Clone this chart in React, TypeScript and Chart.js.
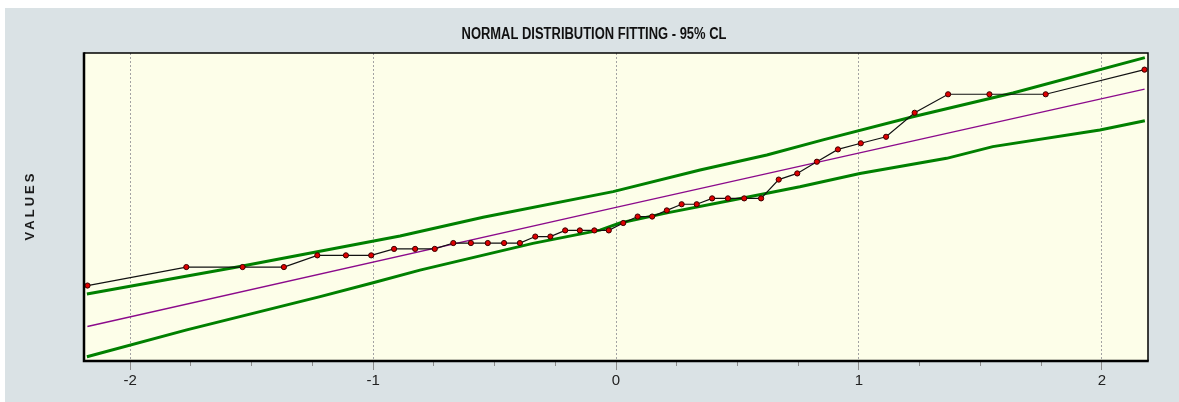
import React, { useEffect, useRef } from "react";
import { Chart, registerables } from "chart.js";

Chart.register(...registerables);

const chartTitle = "NORMAL DISTRIBUTION FITTING - 95% CL";
const yAxisLabel = "VALUES";

// normal scores (x) of the 42 ordered observations
const normalScores = [
  -2.1756, -1.7688, -1.5372, -1.3671, -1.2294, -1.1117, -1.0077, -0.9136, -0.8269, -0.7461,
  -0.6698, -0.5973, -0.5278, -0.4608, -0.3957, -0.3323, -0.2702, -0.2092, -0.1489, -0.0891,
  -0.0297, 0.0297, 0.0891, 0.1489, 0.2092, 0.2702, 0.3323, 0.3957, 0.4608, 0.5278,
  0.5973, 0.6698, 0.7461, 0.8269, 0.9136, 1.0077, 1.1117, 1.2294, 1.3671, 1.5372,
  1.7688, 2.1756,
];

// ordered observed values
const observedValues = [
  2.45, 3.05, 3.05, 3.05, 3.43, 3.43, 3.43, 3.64, 3.64, 3.64,
  3.83, 3.83, 3.83, 3.83, 3.83, 4.04, 4.04, 4.24, 4.24, 4.24,
  4.24, 4.48, 4.69, 4.69, 4.89, 5.09, 5.09, 5.28, 5.28, 5.28,
  5.28, 5.89, 6.09, 6.47, 6.87, 7.07, 7.28, 8.06, 8.66, 8.66,
  8.66, 9.46,
];

// fitted normal line
const fitX = [-2.176, 0, 2.176];
const fitY = [1.12, 4.99, 8.83];

// upper 95% confidence limit
const upperX = [-2.178, -1.576, -0.889, -0.547, -0.012, 0.346, 0.621, 0.852, 1.222, 1.634, 2.177];
const upperY = [2.175, 3.03, 4.06, 4.67, 5.5, 6.2, 6.69, 7.18, 7.93, 8.7, 9.85];

// lower 95% confidence limit
const lowerX = [-2.178, -1.767, -1.218, -1.0, -0.807, -0.342, -0.066, 0.016, 0.21, 0.481, 0.757, 1.004, 1.361, 1.551, 1.992, 2.177];
const lowerY = [0.14, 1.01, 2.09, 2.54, 2.95, 3.82, 4.25, 4.48, 4.81, 5.23, 5.66, 6.09, 6.58, 6.96, 7.5, 7.8];

const xMin = -2.19;
const xMax = 2.19;
const yMin = 0;
const yMax = 10;

const toPoints = (xs: number[], ys: number[]) => xs.map((x, i) => ({ x, y: ys[i] }));
const isMajor = (v: number) => Math.abs(v - Math.round(v)) < 1e-6;

const framePlugin = {
  id: "frame",
  beforeDraw(chart: any) {
    const { ctx, chartArea: a } = chart;
    ctx.save();
    ctx.fillStyle = "#fdfee9";
    ctx.fillRect(a.left, a.top, a.right - a.left, a.bottom - a.top);
    ctx.restore();
  },
  afterDraw(chart: any) {
    const { ctx, chartArea: a } = chart;
    ctx.save();
    ctx.strokeStyle = "#000";
    ctx.lineWidth = 1.5;
    ctx.beginPath();
    ctx.moveTo(a.left, a.top);
    ctx.lineTo(a.right, a.top);
    ctx.lineTo(a.right, a.bottom);
    ctx.stroke();
    ctx.lineWidth = 2.5;
    ctx.beginPath();
    ctx.moveTo(a.left, a.top - 0.75);
    ctx.lineTo(a.left, a.bottom);
    ctx.lineTo(a.right + 0.75, a.bottom);
    ctx.stroke();
    ctx.restore();

    // condensed bold title
    ctx.save();
    ctx.translate(589, 26.5);
    ctx.scale(0.81, 1);
    ctx.font = 'bold 16px "Liberation Sans", Arial, sans-serif';
    ctx.textAlign = "center";
    ctx.textBaseline = "middle";
    ctx.fillStyle = "#111";
    ctx.fillText(chartTitle, 0, 0);
    ctx.restore();

    // letter-spaced vertical axis label
    ctx.save();
    ctx.translate(25, (a.top + a.bottom) / 2);
    ctx.rotate(-Math.PI / 2);
    ctx.font = 'bold 13px "Liberation Sans", Arial, sans-serif';
    (ctx as any).letterSpacing = "3px";
    ctx.textAlign = "center";
    ctx.textBaseline = "middle";
    ctx.fillStyle = "#1a1a1a";
    ctx.fillText(yAxisLabel, 1.5, 0);
    ctx.restore();
  },
};

export default function App() {
  const canvasRef = useRef<HTMLCanvasElement | null>(null);

  useEffect(() => {
    if (!canvasRef.current) return;
    const chart = new Chart(canvasRef.current, {
      type: "line",
      data: {
        datasets: [
          {
            label: "Observed",
            data: toPoints(normalScores, observedValues),
            borderColor: "#111",
            borderWidth: 1.2,
            pointRadius: 2.6,
            pointBorderWidth: 1,
            pointBackgroundColor: "#e00000",
            pointBorderColor: "#3a0000",
            tension: 0,
          },
          {
            label: "Fit",
            data: toPoints(fitX, fitY),
            borderColor: "#8b0a8b",
            borderWidth: 1.3,
            pointRadius: 0,
            tension: 0,
          },
          {
            label: "Upper 95%",
            data: toPoints(upperX, upperY),
            borderColor: "#008000",
            borderWidth: 3,
            pointRadius: 0,
            tension: 0,
          },
          {
            label: "Lower 95%",
            data: toPoints(lowerX, lowerY),
            borderColor: "#008000",
            borderWidth: 3,
            pointRadius: 0,
            tension: 0,
          },
        ],
      },
      options: {
        animation: false,
        responsive: true,
        maintainAspectRatio: false,
        layout: { padding: { left: 0, right: 31, top: 45, bottom: 0 } },
        plugins: {
          legend: { display: false },
          tooltip: { enabled: false },
          title: { display: false },
        },
        scales: {
          x: {
            type: "linear",
            min: xMin,
            max: xMax,
            offset: false,
            border: { display: false, dash: [2, 2] },
            grid: {
              color: (c: any) => (isMajor(c.tick.value) ? "#a3a3a3" : "rgba(0,0,0,0)"),
              lineWidth: 1,
              drawTicks: true,
              tickLength: 9,
              tickColor: "#8c8c8c",
              tickWidth: 1,
              tickBorderDash: (c: any) => (isMajor(c.tick.value) ? [] : [5, 30]),
            },
            ticks: {
              stepSize: 0.25,
              includeBounds: false,
              autoSkip: false,
              maxRotation: 0,
              padding: 2,
              color: "#222",
              font: { family: '"Liberation Sans", Arial', size: 15 },
              callback: (v: any) => (isMajor(Number(v)) ? String(Math.round(Number(v))) : ""),
            },
            afterFit: (s: any) => {
              s.height = 41;
            },
          },
          y: {
            type: "linear",
            min: yMin,
            max: yMax,
            border: { display: false },
            grid: { display: false },
            ticks: { display: false },
            afterFit: (s: any) => {
              s.width = 79;
            },
          },
        },
      },
      plugins: [framePlugin],
    });
    return () => chart.destroy();
  }, []);

  return (
    <div
      style={{
        position: "absolute",
        left: 5,
        top: 8,
        width: 1174,
        height: 394,
        background: "#dae2e5",
      }}
    >
      <canvas ref={canvasRef} />
    </div>
  );
}
